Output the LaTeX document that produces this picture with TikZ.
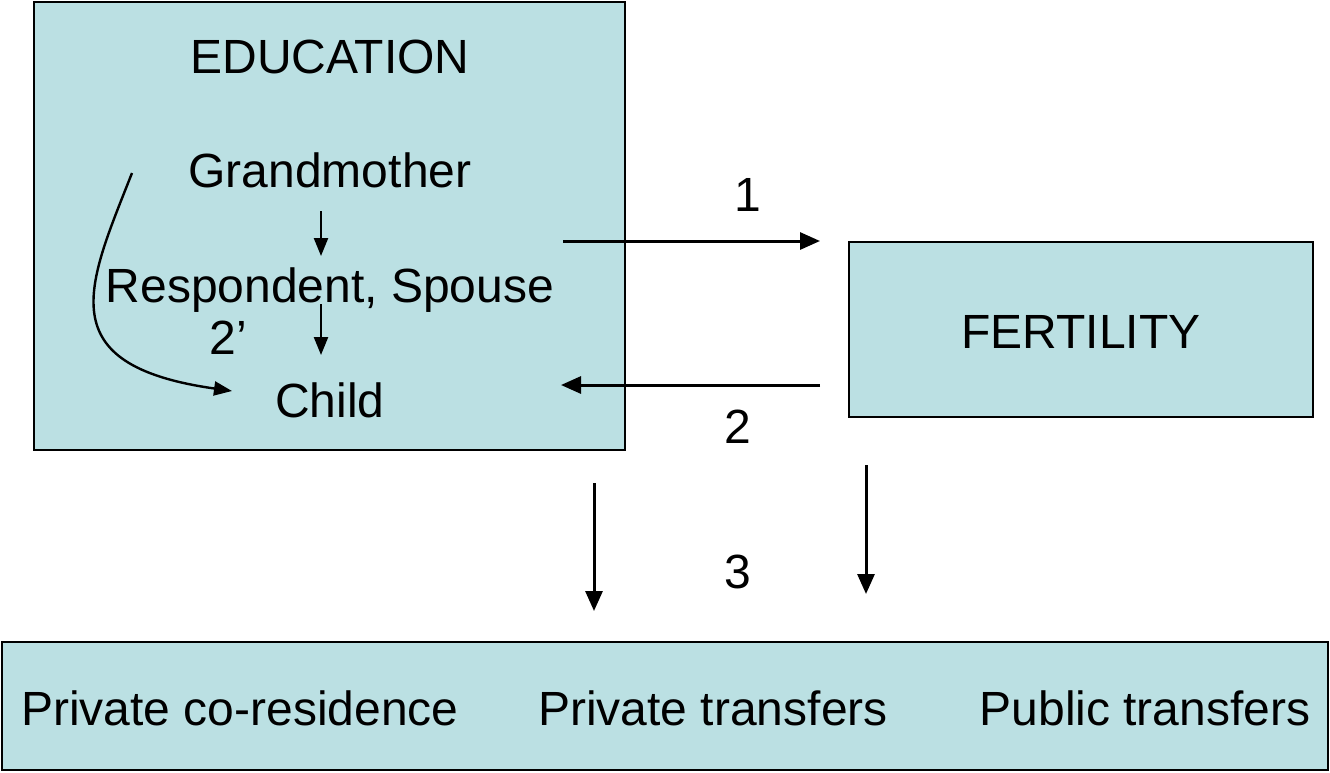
\documentclass[tikz,border=0pt]{standalone}
\usepackage{fontspec}
\setmainfont{Liberation Sans}
\usetikzlibrary{arrows.meta}
\definecolor{boxfill}{HTML}{BBE0E3}
\begin{document}
\begin{tikzpicture}[x=1pt,y=-1pt,
  box/.style={draw=black,line width=2.5pt,fill=boxfill,inner sep=0pt},
  txt/.style={anchor=base,inner sep=0pt,font=\fontsize{48}{57}\selectfont},
  arr/.style={line width=3pt,-{Triangle[length=20pt,width=17pt]}},
  sarr/.style={line width=2.4pt,-{Triangle[length=18pt,width=14pt]}}]
\useasboundingbox (0,0) rectangle (1330,772);
% boxes
\node[box,minimum width=591pt,minimum height=448pt] (edu) at (329.5,226) {};
\node[box,minimum width=464pt,minimum height=175pt] (fert) at (1081,329.5) {};
\node[box,minimum width=1326pt,minimum height=128pt] (out) at (665,706) {};
% texts
\node[txt] (edutitle) at (330,73) {EDUCATION};
\node[txt] (grand) at (330,187) {Grandmother};
\node[txt] (resp) at (330,302) {Respondent, Spouse};
\node[txt] (child) at (330,417) {Child};
\node[txt] (lab2p) at (228,354) {2’};
\node[txt] (ferttxt) at (1081,348) {FERTILITY};
\node[txt] (o1) at (240,725) {Private co-residence};
\node[txt] (o2) at (713,725) {Private transfers};
\node[txt] (o3) at (1145,725) {Public transfers};
\node[txt] (lab1) at (748,211) {1};
\node[txt] (lab2) at (738,443) {2};
\node[txt] (lab3) at (738,588) {3};
% connector endpoints
\coordinate (g1) at (321,211);
\coordinate (g2) at (321,256);
\coordinate (r1) at (321,304);
\coordinate (r2) at (321,355);
\coordinate (c1) at (132,173);
\coordinate (c2) at (232,391);
\coordinate (a1s) at (563,241);
\coordinate (a1e) at (820,241);
\coordinate (a2s) at (820,385);
\coordinate (a2e) at (561,385);
\coordinate (d1s) at (594,483);
\coordinate (d1e) at (594,611);
\coordinate (d2s) at (866,465);
\coordinate (d2e) at (866,594);
% connectors
\draw[sarr] (g1) -- (g2);
\draw[sarr] (r1) -- (r2);
\draw[sarr] (c1) .. controls (88,285) and (48,365) .. (c2);
\draw[arr] (a1s) -- (a1e);
\draw[arr] (a2s) -- (a2e);
\draw[arr] (d1s) -- (d1e);
\draw[arr] (d2s) -- (d2e);
\end{tikzpicture}
\end{document}
